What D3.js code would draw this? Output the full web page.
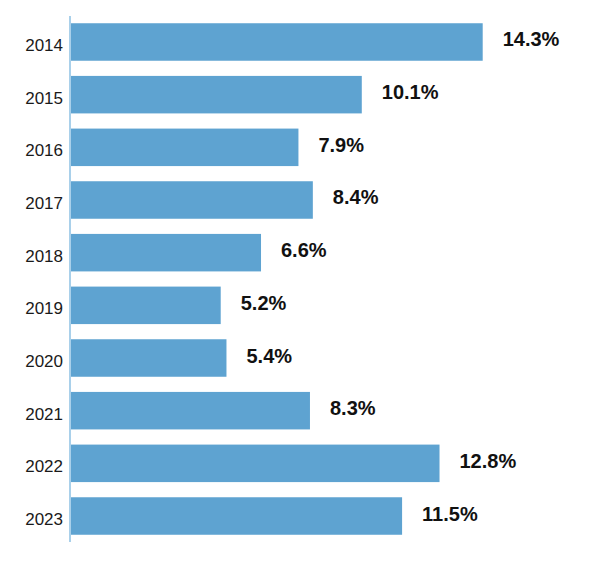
<!DOCTYPE html>
<html lang="en">
<head>
  <meta charset="UTF-8">
  <title>Yearly rate</title>
  <script src="https://d3js.org/d3.v7.min.js"></script>
  <style>
    body { margin: 0; background: #fff; }
    svg { display: block; }
    .year { font-family: "Liberation Sans", Arial, sans-serif; font-size: 17px; fill: #1a1a1a; }
    .value { font-family: "Liberation Sans", Arial, sans-serif; font-size: 20px; font-weight: bold; fill: #111; }
  </style>
</head>
<body>
  <div id="chart"></div>
  <script>
    const years = ["2014", "2015", "2016", "2017", "2018", "2019", "2020", "2021", "2022", "2023"];
    const rates = [14.3, 10.1, 7.9, 8.4, 6.6, 5.2, 5.4, 8.3, 12.8, 11.5];
    const labels = ["14.3%", "10.1%", "7.9%", "8.4%", "6.6%", "5.2%", "5.4%", "8.3%", "12.8%", "11.5%"];

    const width = 611, height = 570;
    const data = years.map((y, i) => ({ year: y, rate: rates[i], label: labels[i] }));

    const svg = d3.select("#chart").append("svg").attr("width", width).attr("height", height);

    const y = d3.scaleBand().domain(years).range([16, 542]).paddingInner(0.288).paddingOuter(0.1375);
    const x = d3.scaleLinear().domain([0, 14.3]).range([71, 482.7]);

    // bars
    svg.append("g")
      .selectAll("rect")
      .data(data)
      .enter().append("rect")
      .attr("x", x(0))
      .attr("y", d => y(d.year))
      .attr("width", d => x(d.rate) - x(0))
      .attr("height", y.bandwidth())
      .attr("fill", "#5ea3d1");

    // axis line
    svg.append("line")
      .attr("x1", 70).attr("x2", 70)
      .attr("y1", 16).attr("y2", 542)
      .attr("stroke", "#a9d0ea").attr("stroke-width", 2);

    // year labels
    svg.append("g")
      .selectAll("text")
      .data(data)
      .enter().append("text")
      .attr("class", "year")
      .attr("x", 63)
      .attr("y", d => y(d.year) + y.bandwidth() / 2 + 3)
      .attr("dy", "0.35em")
      .attr("text-anchor", "end")
      .text(d => d.year);

    // value labels
    svg.append("g")
      .selectAll("text")
      .data(data)
      .enter().append("text")
      .attr("class", "value")
      .attr("x", d => x(d.rate) + 20)
      .attr("y", d => y(d.year) + y.bandwidth() / 2 - 2.5)
      .attr("dy", "0.35em")
      .text(d => d.label);
  </script>
</body>
</html>
